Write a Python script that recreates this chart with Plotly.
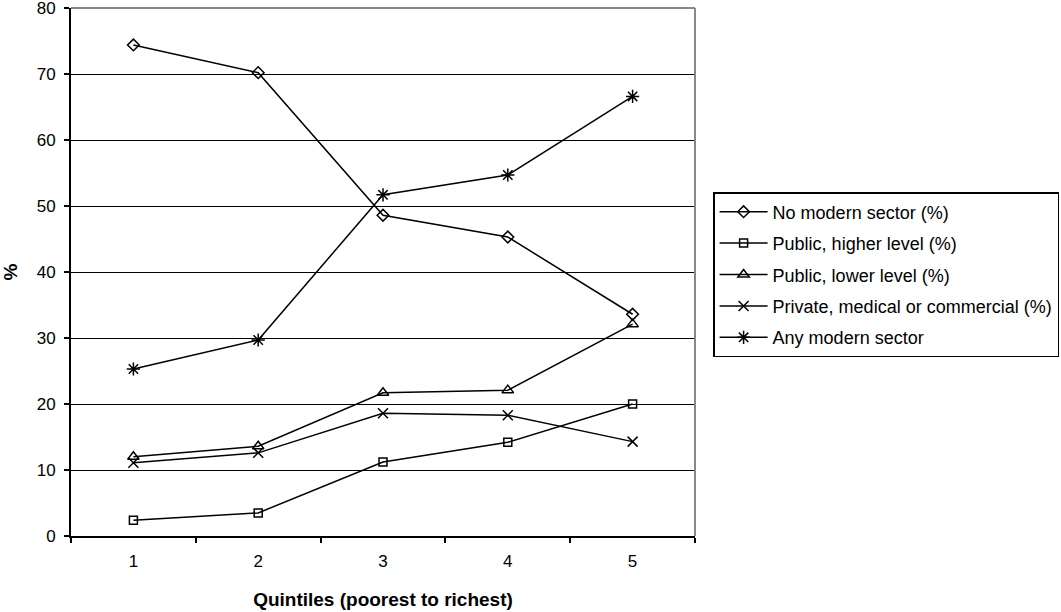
import plotly.graph_objects as go

quintiles = ["1", "2", "3", "4", "5"]
no_modern = [74.4, 70.2, 48.6, 45.3, 33.6]
public_higher = [2.4, 3.5, 11.2, 14.2, 20.0]
public_lower = [12.0, 13.6, 21.7, 22.1, 32.1]
private_med = [11.1, 12.6, 18.6, 18.3, 14.3]
any_modern = [25.3, 29.7, 51.7, 54.7, 66.6]

series = [
    ("No modern sector (%)", no_modern, "diamond-open", 9),
    ("Public, higher level (%)", public_higher, "square-open", 8),
    ("Public, lower level (%)", public_lower, "triangle-up-open", 10),
    ("Private, medical or commercial (%)", private_med, "x-thin-open", 10),
    ("Any modern sector", any_modern, "asterisk-open", 11),
]

fig = go.Figure()
for i, (name, vals, sym, sz) in enumerate(series):
    fig.add_trace(go.Scatter(
        x=quintiles, y=vals, name=name, mode="lines+markers",
        legendgroup=f"g{i}",
        line=dict(color="black", width=1.5),
        marker=dict(symbol=sym, size=sz, color="black",
                    line=dict(color="black", width=1.5)),
    ))

font = "Liberation Sans, Arial, sans-serif"
fig.update_layout(
    width=1061, height=612,
    margin=dict(l=71, r=366, t=8, b=76, autoexpand=False),
    paper_bgcolor="white", plot_bgcolor="white",
    font=dict(family=font, size=18, color="black"),
    showlegend=True,
    legend=dict(
        x=1.029, xanchor="left", y=0.6515, yanchor="top",
        bordercolor="black", borderwidth=1.5,
        font=dict(family=font, size=18, color="black"),
        traceorder="grouped", tracegroupgap=5, itemwidth=48,
        bgcolor="white",
    ),
    xaxis=dict(
        type="category", range=[-0.5, 4.5], automargin=False,
        showgrid=False, showline=True, linecolor="black", linewidth=2,
        ticks="outside", ticklen=5, tickwidth=1.5, tickcolor="black",
        tickson="boundaries", ticklabelstandoff=9,
        tickfont=dict(size=17),
        title=dict(text="<b>Quintiles (poorest to richest)</b>",
                   font=dict(size=19), standoff=22),
    ),
    yaxis=dict(
        range=[0, 80], tickvals=[0, 10, 20, 30, 40, 50, 60, 70, 80],
        automargin=False,
        showgrid=True, gridcolor="black", gridwidth=1,
        zeroline=False, ticklabeloverflow="allow",
        showline=True, linecolor="black", linewidth=2,
        ticks="outside", ticklen=5, tickwidth=1.5, tickcolor="black",
        ticklabelstandoff=5,
        tickfont=dict(size=17),
        title=dict(text="<b>%</b>", font=dict(size=19), standoff=17),
    ),
    shapes=[
        dict(type="line", xref="paper", yref="paper", x0=0, x1=1, y0=1, y1=1,
             line=dict(color="#888888", width=2)),
        dict(type="line", xref="paper", yref="paper", x0=1, x1=1, y0=0, y1=1,
             line=dict(color="#888888", width=2)),
    ],
)

fig.write_html("out.html", config={"displayModeBar": False},
               post_script="document.body.style.margin='0';document.body.style.padding='0';")
